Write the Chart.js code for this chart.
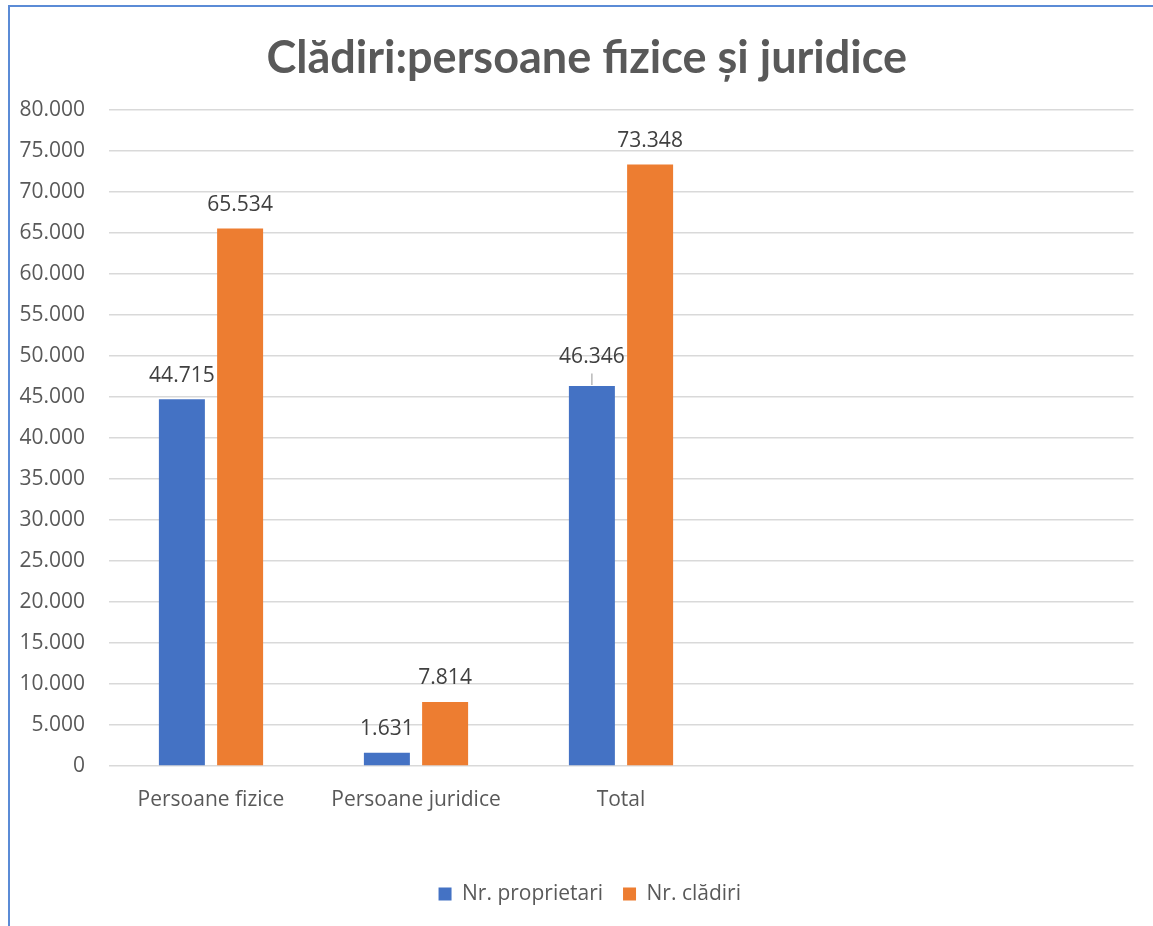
<!DOCTYPE html>
<html><head><meta charset="utf-8">
<script src="https://cdn.jsdelivr.net/npm/chart.js@4.4.0/dist/chart.umd.min.js"></script>
<style>
html,body{margin:0;padding:0;background:#fff;}
#wrap{position:relative;width:1153px;height:926px;overflow:hidden;background:#fff;}
#frame{position:absolute;left:8px;top:5px;width:1300px;height:1100px;border-left:2px solid #5B8BD6;border-top:2px solid #5B8BD6;}
canvas{position:absolute;left:0;top:0;}
</style></head><body>
<div id="wrap"><div id="frame"></div><canvas id="c" width="1153" height="926"></canvas></div>
<script>
const categories = ['Persoane fizice', 'Persoane juridice', 'Total', '', ''];
const seriesNames = ['Nr. proprietari', 'Nr. clădiri'];
const proprietari = [44715, 1631, 46346, null, null];
const cladiri = [65534, 7814, 73348, null, null];
const yTicks = [0, 5000, 10000, 15000, 20000, 25000, 30000, 35000, 40000, 45000, 50000, 55000, 60000, 65000, 70000, 75000, 80000];
const titleText = 'Clădiri:persoane fizice și juridice';

const fmt = v => String(v).replace(/\B(?=(\d{3})+(?!\d))/g, '.');
const LABEL_FONT = '21px "Open Sans"';

const barLabels = {
  id: 'barLabels',
  afterDatasetsDraw(chart, args, opts) {
    const ctx = chart.ctx;
    ctx.save();
    ctx.font = LABEL_FONT;
    ctx.fillStyle = '#404040';
    ctx.textAlign = 'center';
    ctx.textBaseline = 'alphabetic';
    chart.data.datasets.forEach((ds, di) => {
      const meta = chart.getDatasetMeta(di);
      meta.data.forEach((el, i) => {
        const v = ds.data[i];
        if (v == null) return;
        const lead = opts.leader && opts.leader.dataset === di && opts.leader.index === i;
        const off = lead ? opts.leader.offset : opts.offset;
        ctx.fillText(fmt(v), el.x, el.y - off);
        if (lead) {
          ctx.strokeStyle = '#A6A6A6';
          ctx.lineWidth = 1.2;
          ctx.beginPath();
          ctx.moveTo(el.x, el.y - 1);
          ctx.lineTo(el.x, el.y - off + 10);
          ctx.stroke();
        }
      });
    });
    ctx.restore();
  }
};

// shift the title and legend boxes so they are centred like in the original frame
const boxShift = {
  id: 'boxShift',
  afterLayout(chart, args, opts) {
    const t = chart.titleBlock;
    if (t) { t.left = opts.titleLeft; }
    const l = chart.legend;
    if (l) {
      l.left += opts.legendDx; l.right += opts.legendDx;
      l.top += opts.legendDy; l.bottom += opts.legendDy;
    }
  }
};

new Chart(document.getElementById('c'), {
  type: 'bar',
  data: {
    labels: categories,
    datasets: [
      { label: seriesNames[0], data: proprietari, backgroundColor: '#4472C4' },
      { label: seriesNames[1], data: cladiri, backgroundColor: '#ED7D31' }
    ]
  },
  options: {
    responsive: false,
    animation: false,
    devicePixelRatio: 1,
    categoryPercentage: 0.568,
    barPercentage: 0.79,
    layout: { padding: { left: 10, right: 19.5, top: 6, bottom: 14.5 } },
    plugins: {
      title: {
        display: true,
        text: titleText,
        color: '#595959',
        font: { family: 'Lato', weight: 'bold', size: 45 },
        padding: { top: 25.5, bottom: 24.5 }
      },
      legend: {
        position: 'bottom',
        labels: {
          boxWidth: 13, boxHeight: 13,
          color: '#595959',
          font: { family: 'Open Sans', size: 21 },
          padding: 20
        }
      },
      tooltip: { enabled: false },
      barLabels: { offset: 17.5, leader: { dataset: 0, index: 2, offset: 22.5 } },
      boxShift: { titleLeft: 40, legendDx: 18, legendDy: 3 }
    },
    scales: {
      x: {
        grid: { display: false },
        border: { display: false },
        ticks: { color: '#595959', font: { family: 'Open Sans', size: 21 }, padding: 13, maxRotation: 0, autoSkip: false },
        afterFit(s) { s.height = 94.5; }
      },
      y: {
        min: 0, max: 80000,
        grid: { color: '#D9D9D9', lineWidth: 1.5, drawTicks: false },
        border: { display: false },
        afterBuildTicks(s) { s.ticks = yTicks.map(v => ({ value: v })); },
        ticks: { color: '#595959', font: { family: 'Open Sans', size: 21 }, padding: 23.5, callback: v => fmt(v) },
        afterFit(s) { s.width = 98.5; }
      }
    }
  },
  plugins: [barLabels, boxShift]
});
</script>
</body></html>
